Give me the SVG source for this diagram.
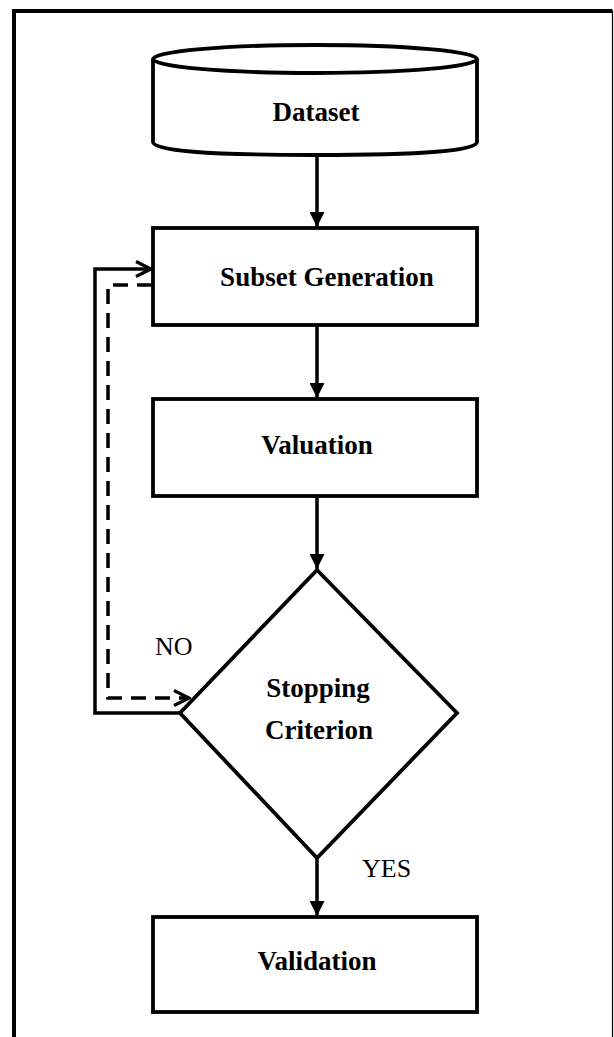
<svg xmlns="http://www.w3.org/2000/svg" width="614" height="1037" viewBox="0 0 614 1037">
<style>
.shape{fill:#fff;stroke:#000;stroke-width:3.8}
.lbl{font-family:"Liberation Serif","Times New Roman",serif;font-weight:bold;font-size:27px;text-anchor:middle;fill:#000}
.note{font-family:"Liberation Serif","Times New Roman",serif;font-size:26px;fill:#000}
.conn{fill:none;stroke:#000;stroke-width:3.5}
.dash{stroke-dasharray:15 9}
</style>
<defs>
<marker id="fill" viewBox="0 0 10 10" refX="10" refY="5" markerUnits="userSpaceOnUse" markerWidth="15" markerHeight="15" orient="auto">
<path d="M0,0 L10,5 L0,10 z" fill="#000"/>
</marker>
<marker id="open" viewBox="0 0 12 12" refX="11" refY="6" markerUnits="userSpaceOnUse" markerWidth="18" markerHeight="18" orient="auto">
<path d="M1,1 L11,6 L1,11" fill="none" stroke="#000" stroke-width="2.2"/>
</marker>
</defs>
<rect x="0" y="0" width="614" height="1037" fill="#fff"/>
<path d="M14,1037 L14,11 L612.5,11" fill="none" stroke="#000" stroke-width="4"/>
<line x1="612.5" y1="11" x2="612.5" y2="1037" stroke="#000" stroke-width="1.2"/>
<g id="connectors">
<line class="conn" x1="317" y1="155" x2="317" y2="227" marker-end="url(#fill)"/>
<line class="conn" x1="317" y1="325" x2="317" y2="398" marker-end="url(#fill)"/>
<line class="conn" x1="317" y1="496" x2="317" y2="569" marker-end="url(#fill)"/>
<line class="conn" x1="317" y1="858" x2="317" y2="916" marker-end="url(#fill)"/>
<path class="conn" d="M180,713 L95,713 L95,269 L151,269" marker-end="url(#open)"/>
<path class="conn dash" d="M152,285 L108,285 L108,698 L189,698" marker-end="url(#open)"/>
</g>
<g id="dataset">
<path class="shape" d="M153,59 L153,142 Q153,155 315,155 Q477,155 477,142 L477,59"/>
<ellipse class="shape" cx="315" cy="59" rx="162" ry="14"/>
<text class="lbl" x="316" y="121">Dataset</text>
</g>
<g id="subset">
<rect class="shape" x="153" y="228" width="324" height="97"/>
<text class="lbl" x="327" y="286">Subset Generation</text>
</g>
<g id="valuation">
<rect class="shape" x="153" y="399" width="324" height="97"/>
<text class="lbl" x="317" y="454">Valuation</text>
</g>
<g id="stopping">
<polygon class="shape" points="317,570 457,713 317,858 180,713"/>
<text class="lbl" x="318" y="697">Stopping</text>
<text class="lbl" x="319" y="739">Criterion</text>
</g>
<g id="validation">
<rect class="shape" x="153" y="917" width="324" height="95"/>
<text class="lbl" x="317" y="970">Validation</text>
</g>
<text class="note" x="155" y="655">NO</text>
<text class="note" x="362" y="877">YES</text>
</svg>
